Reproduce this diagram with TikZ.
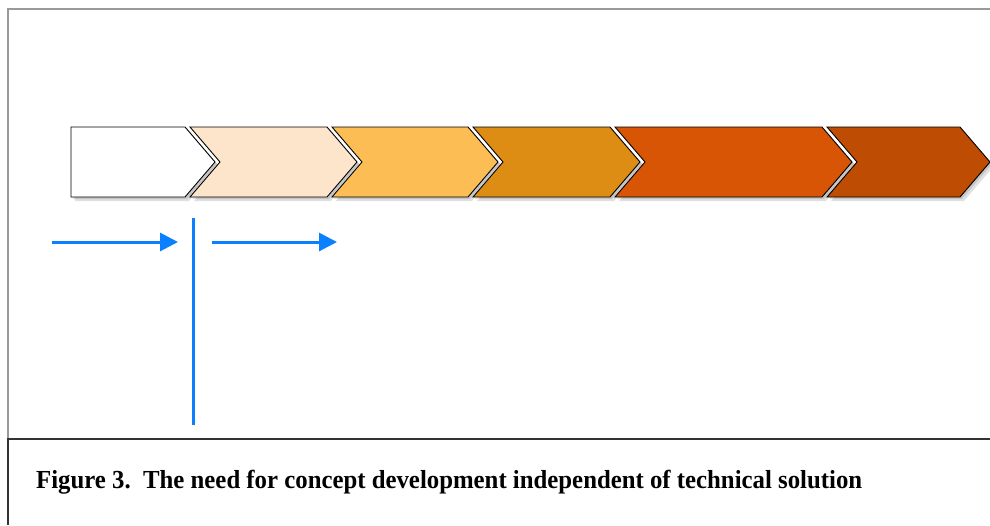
\documentclass[tikz,border=0pt]{standalone}
\usepackage{fontspec}
\setmainfont{Liberation Serif}
\usetikzlibrary{arrows.meta}
\definecolor{flowblue}{RGB}{10,128,255}
\definecolor{stageA}{RGB}{255,255,255}
\definecolor{stageB}{RGB}{253,229,204}
\definecolor{stageC}{RGB}{252,190,84}
\definecolor{stageD}{RGB}{222,141,20}
\definecolor{stageE}{RGB}{215,85,5}
\definecolor{stageF}{RGB}{190,77,3}
% chevron from left edge #2 to shoulder #3, notch depth #4 (0 = flat)
\def\chevron[#1](#2:#3:#4){%
	\fill[black, opacity=0.12] (#2+4, 131) -- (#3+4, 131) -- (#3+34, 166) -- (#3+4, 201) -- (#2+4, 201) -- (#2+4+#4, 166) -- cycle;
	\fill[black, opacity=0.12] (#2+2, 129) -- (#3+2, 129) -- (#3+32, 164) -- (#3+2, 199) -- (#2+2, 199) -- (#2+2+#4, 164) -- cycle;
	\draw[#1, line width=0.9pt] (#2, 127) -- (#3, 127) -- (#3+30, 162) -- (#3, 197) -- (#2, 197) -- (#2+#4, 162) -- cycle;}
\tikzset{
	flow/.style={flowblue, line width=3pt},
	flowarrow/.style={flow, -{Triangle[length=18pt, width=18pt]}}
}
\begin{document}
\begin{tikzpicture}[x=1pt, y=-1pt]
		%%%%% START %%%%%
		\useasboundingbox (0, 0) rectangle (990, 525);
		
		% outer frame
		\draw[line width=2pt, color=black!40] (990, 9) -- (7.5, 9) -- (7.5, 439);
		
		% stages
		\chevron[fill=stageA](71:185:0);
		\chevron[fill=stageB](190:327:30);
		\chevron[fill=stageC](332:468:30);
		\chevron[fill=stageD](473:610:30);
		\chevron[fill=stageE](615:822:30);
		\chevron[fill=stageF](827:960:30);
		
		% flow
		\coordinate (inStart) at (52, 242);
		\coordinate (inEnd) at (178, 242);
		\coordinate (outStart) at (212, 242);
		\coordinate (outEnd) at (337, 242);
		\coordinate (splitTop) at (193, 218);
		\coordinate (splitBottom) at (193, 425);
		\draw[flowarrow] (inStart) -- (inEnd);
		\draw[flowarrow] (outStart) -- (outEnd);
		\draw[flow] (splitTop) -- (splitBottom);
		
		% caption box
		\draw[line width=1.5pt, color=black!80] (990, 439) -- (8, 439) -- (8, 525);
		\node[anchor=base west, inner sep=0pt] (caption) at (36, 488)
			{\resizebox{826pt}{\height}{\fontsize{26}{30}\selectfont\bfseries Figure 3.\ \ The need for concept development independent of technical solution}};
		
		%%%%% END %%%%%
	\end{tikzpicture}
\end{document}
